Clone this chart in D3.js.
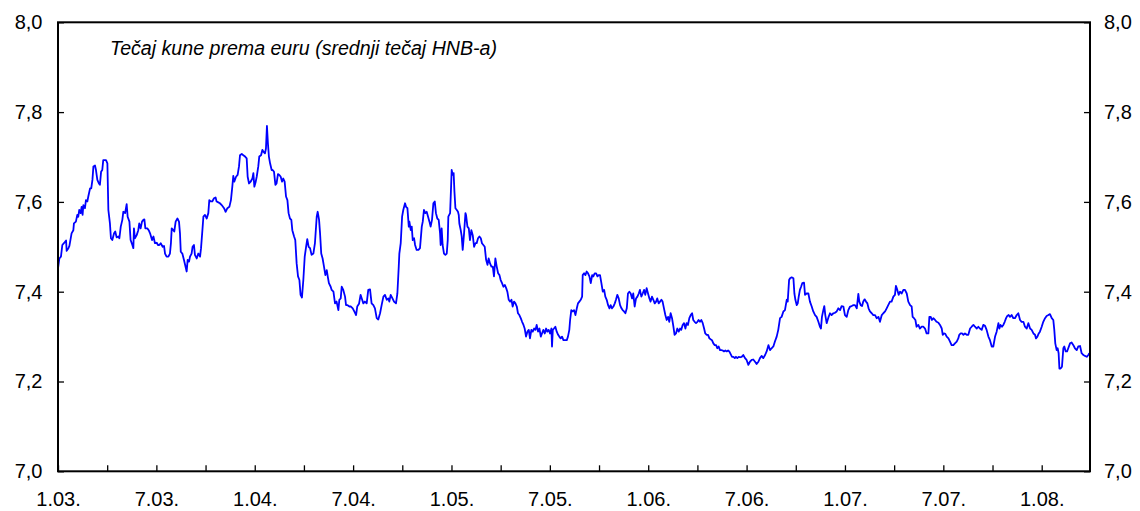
<!DOCTYPE html>
<html><head><meta charset="utf-8">
<script src="https://cdn.jsdelivr.net/npm/d3@7"></script>
<style>
html,body{margin:0;padding:0;background:#fff;}
svg{display:block;}
text{font-family:"Liberation Sans",Arial,sans-serif;fill:#000;}
</style></head>
<body><svg id="chart" width="1140" height="511"></svg>
<script>
const titleText = "Tečaj kune prema euru (srednji tečaj HNB-a)";
const xTickValues = [2003,2003.25,2003.5,2003.75,2004,2004.25,2004.5,2004.75,2005,2005.25,2005.5,2005.75,2006,2006.25,2006.5,2006.75,2007,2007.25,2007.5,2007.75,2008];
const xTickLabels = {2003:"1.03.",2003.5:"7.03.",2004:"1.04.",2004.5:"7.04.",2005:"1.05.",2005.5:"7.05.",2006:"1.06.",2006.5:"7.06.",2007:"1.07.",2007.5:"7.07.",2008:"1.08."};
const yTickValues = [7.0,7.2,7.4,7.6,7.8,8.0];
const xDomain = [2003, 2008.2455];
const yDomain = [7.0, 8.0];

// decimal year of each observation
const years = [
2003.000,2003.007,2003.015,2003.022,2003.030,2003.041,2003.044,2003.053,2003.058,2003.069,
2003.078,2003.081,2003.091,2003.098,2003.103,2003.108,2003.115,2003.120,2003.125,2003.129,
2003.137,2003.142,2003.149,2003.154,2003.163,2003.169,2003.175,2003.180,2003.188,2003.193,
2003.200,2003.208,2003.213,2003.219,2003.225,2003.230,2003.244,2003.251,2003.256,2003.264,
2003.269,2003.276,2003.285,2003.291,2003.298,2003.307,2003.312,2003.319,2003.327,2003.332,
2003.341,2003.349,2003.354,2003.363,2003.369,2003.378,2003.383,2003.386,2003.391,2003.400,
2003.408,2003.413,2003.420,2003.427,2003.434,2003.439,2003.444,2003.454,2003.461,2003.468,
2003.478,2003.485,2003.493,2003.502,2003.508,2003.515,2003.522,2003.532,2003.539,2003.544,
2003.552,2003.561,2003.569,2003.574,2003.578,2003.586,2003.591,2003.598,2003.607,2003.615,
2003.620,2003.624,2003.632,2003.640,2003.646,2003.654,2003.659,2003.666,2003.671,2003.679,
2003.684,2003.691,2003.696,2003.705,2003.713,2003.722,2003.727,2003.734,2003.739,2003.747,
2003.756,2003.764,2003.769,2003.776,2003.784,2003.793,2003.801,2003.806,2003.815,2003.823,
2003.832,2003.844,2003.852,2003.861,2003.871,2003.879,2003.886,2003.891,2003.896,2003.905,
2003.913,2003.920,2003.925,2003.934,2003.942,2003.951,2003.959,2003.964,2003.971,2003.979,
2003.988,2003.993,2003.998,2004.005,2004.010,2004.018,2004.023,2004.032,2004.039,2004.044,
2004.052,2004.057,2004.062,2004.067,2004.072,2004.078,2004.086,2004.091,2004.098,2004.105,
2004.111,2004.118,2004.125,2004.132,2004.139,2004.145,2004.152,2004.159,2004.166,2004.172,
2004.179,2004.186,2004.191,2004.200,2004.206,2004.213,2004.220,2004.227,2004.233,2004.240,
2004.247,2004.254,2004.261,2004.267,2004.274,2004.281,2004.289,2004.298,2004.306,2004.315,
2004.320,2004.327,2004.332,2004.338,2004.345,2004.352,2004.359,2004.366,2004.371,2004.377,
2004.386,2004.391,2004.400,2004.408,2004.416,2004.425,2004.430,2004.437,2004.442,2004.450,
2004.459,2004.464,2004.472,2004.481,2004.489,2004.498,2004.506,2004.515,2004.521,2004.530,
2004.538,2004.544,2004.552,2004.560,2004.569,2004.577,2004.586,
2004.594,2004.603,2004.611,2004.620,2004.628,2004.637,2004.645,2004.654,2004.662,2004.671,
2004.679,2004.684,2004.691,2004.700,2004.708,2004.718,2004.725,2004.732,2004.735,2004.742,
2004.749,2004.755,2004.764,2004.769,2004.776,2004.783,2004.786,2004.793,2004.798,2004.803,
2004.810,2004.815,2004.823,2004.832,2004.840,2004.849,2004.854,2004.860,2004.867,2004.874,
2004.881,2004.888,2004.894,2004.901,2004.908,2004.915,2004.921,2004.928,2004.935,2004.942,
2004.945,2004.950,2004.955,2004.962,2004.969,2004.976,2004.981,2004.984,2004.993,2004.998,
2005.001,2005.006,2005.011,2005.015,2005.020,2005.027,2005.033,2005.037,2005.040,2005.047,
2005.052,2005.057,2005.064,2005.071,2005.074,2005.081,2005.088,2005.094,2005.101,2005.108,
2005.115,2005.122,2005.128,2005.135,2005.142,2005.149,2005.155,2005.162,2005.169,2005.176,
2005.183,2005.189,2005.196,2005.203,2005.210,2005.216,2005.223,2005.230,2005.237,2005.244,
2005.250,2005.257,2005.264,2005.271,2005.278,2005.284,2005.291,2005.298,2005.305,2005.311,
2005.318,2005.325,2005.332,2005.338,2005.345,2005.352,2005.359,2005.366,2005.372,2005.379,
2005.386,2005.393,2005.399,2005.406,2005.413,2005.420,2005.427,2005.433,2005.440,2005.447,
2005.454,2005.460,2005.467,2005.474,2005.481,2005.487,2005.494,2005.501,2005.508,2005.511,
2005.515,2005.521,2005.528,2005.535,2005.542,2005.548,2005.555,2005.562,2005.569,2005.577,
2005.586,2005.592,2005.599,2005.603,2005.609,2005.616,2005.623,2005.630,2005.637,2005.643,
2005.650,2005.657,2005.664,2005.667,2005.674,2005.681,2005.687,2005.694,2005.701,2005.708,
2005.715,2005.721,2005.728,2005.735,2005.742,2005.748,2005.755,2005.762,2005.769,2005.776,
2005.782,2005.789,2005.796,2005.803,2005.809,2005.816,2005.823,2005.830,2005.836,2005.843,
2005.850,2005.857,2005.864,2005.870,2005.877,2005.884,2005.891,2005.897,2005.904,2005.911,
2005.918,2005.924,2005.931,2005.938,2005.945,2005.952,2005.958,2005.965,2005.972,2005.979,
2005.985,2005.992,2005.999,2006.006,2006.012,2006.019,2006.026,2006.033,2006.040,2006.046,
2006.053,2006.060,2006.067,2006.073,2006.080,2006.087,2006.094,2006.101,2006.107,2006.114,
2006.121,2006.128,2006.134,2006.141,2006.148,2006.155,2006.162,2006.168,2006.175,2006.182,
2006.189,2006.195,2006.202,2006.209,2006.216,2006.223,2006.229,2006.236,2006.243,2006.250,
2006.256,2006.263,2006.270,2006.277,2006.284,2006.290,2006.297,2006.304,2006.311,2006.317,
2006.324,2006.331,2006.338,2006.345,2006.351,2006.358,2006.365,2006.372,2006.379,2006.385,
2006.392,2006.399,2006.406,2006.412,2006.419,2006.426,2006.433,2006.440,2006.446,2006.453,
2006.460,2006.467,
2006.475,2006.483,2006.492,2006.500,2006.509,2006.517,2006.526,2006.534,2006.543,2006.551,
2006.560,2006.568,2006.577,2006.585,2006.594,2006.602,2006.611,2006.619,2006.627,2006.636,
2006.644,2006.653,2006.661,2006.670,2006.678,2006.687,2006.695,2006.704,2006.709,2006.716,
2006.721,2006.729,2006.738,2006.743,2006.748,2006.755,2006.760,2006.765,2006.771,2006.777,
2006.783,2006.792,2006.797,2006.805,2006.814,2006.822,2006.831,2006.839,2006.848,2006.856,
2006.865,2006.873,2006.878,2006.883,2006.890,2006.895,2006.900,2006.907,2006.912,2006.917,
2006.924,2006.932,2006.941,2006.949,2006.958,2006.966,2006.975,2006.983,2006.992,2007.000,
2007.009,2007.017,2007.026,2007.034,2007.043,2007.051,2007.060,2007.068,2007.073,2007.080,
2007.087,2007.093,2007.100,2007.107,2007.114,2007.120,2007.127,2007.136,2007.144,2007.153,
2007.161,2007.170,2007.178,2007.187,2007.195,2007.204,2007.212,2007.220,2007.229,2007.237,
2007.246,2007.254,2007.259,2007.266,2007.273,2007.280,2007.288,2007.297,2007.305,2007.314,
2007.322,2007.331,2007.339,2007.344,2007.351,2007.358,2007.364,2007.373,2007.381,2007.390,
2007.398,2007.407,2007.415,2007.424,2007.429,2007.436,2007.442,2007.449,2007.458,2007.466,
2007.475,2007.483,2007.492,2007.497,2007.503,2007.510,2007.517,2007.526,2007.534,2007.542,
2007.551,2007.559,2007.568,2007.576,2007.581,2007.588,2007.595,2007.602,2007.610,2007.619,
2007.627,2007.636,2007.644,2007.653,2007.661,2007.670,2007.678,2007.686,2007.695,2007.703,
2007.712,2007.720,2007.729,2007.737,2007.746,2007.754,2007.763,2007.771,2007.780,2007.785,
2007.791,2007.798,2007.805,2007.812,2007.819,2007.825,2007.832,2007.839,2007.847,2007.856,
2007.864,2007.873,2007.881,2007.890,2007.898,2007.907,2007.915,2007.924,2007.932,2007.941,
2007.949,2007.958,2007.966,2007.971,2007.978,2007.985,2007.991,2008.000,2008.008,2008.017,
2008.025,2008.034,2008.042,2008.051,2008.059,2008.064,2008.069,2008.076,2008.081,2008.086,
2008.090,2008.096,2008.103,2008.110,2008.115,2008.122,2008.129,2008.135,2008.144,2008.152,
2008.161,2008.169,2008.178,2008.186,2008.195,2008.203,2008.212,2008.220,2008.229,2008.237,
2008.242
];

// HRK per EUR, HNB middle rate
const rates = [
7.452,7.474,7.478,7.504,7.508,7.514,7.491,7.497,7.502,7.530,
7.537,7.552,7.556,7.571,7.567,7.582,7.575,7.589,7.571,7.593,
7.586,7.604,7.601,7.612,7.630,7.630,7.649,7.679,7.681,7.671,
7.649,7.641,7.638,7.667,7.671,7.693,7.693,7.686,7.582,7.552,
7.519,7.515,7.530,7.534,7.521,7.523,7.519,7.545,7.560,7.578,
7.575,7.595,7.567,7.556,7.515,7.504,7.497,7.541,7.519,7.526,
7.537,7.552,7.541,7.556,7.560,7.561,7.541,7.541,7.537,7.530,
7.515,7.523,7.508,7.509,7.504,7.504,7.508,7.500,7.502,7.485,
7.478,7.478,7.485,7.508,7.541,7.537,7.534,7.556,7.563,7.556,
7.530,7.489,7.485,7.471,7.460,7.445,7.471,7.467,7.478,7.485,
7.500,7.504,7.482,7.474,7.485,7.478,7.497,7.537,7.567,7.571,
7.563,7.575,7.604,7.601,7.601,7.608,7.610,7.601,7.599,7.597,
7.593,7.586,7.578,7.586,7.589,7.604,7.634,7.658,7.645,7.656,
7.660,7.679,7.704,7.707,7.704,7.701,7.697,7.656,7.641,7.645,
7.652,7.664,7.634,7.645,7.656,7.679,7.701,7.704,7.716,7.712,
7.708,7.719,7.769,7.730,7.701,7.686,7.671,7.671,7.667,7.638,
7.641,7.662,7.660,7.656,7.645,7.652,7.645,7.612,7.604,7.575,
7.563,7.560,7.537,7.523,7.515,7.463,7.434,7.426,7.393,7.387,
7.426,7.478,7.500,7.517,7.500,7.497,7.482,7.485,7.508,7.567,
7.578,7.560,7.530,7.485,7.474,7.456,7.437,7.448,7.434,7.419,
7.411,7.404,7.400,7.374,7.378,7.359,7.382,7.385,7.411,7.404,
7.389,7.370,7.370,7.367,7.367,7.363,7.356,7.348,7.367,7.373,
7.393,7.385,7.374,7.378,7.374,7.404,7.405,
7.374,7.370,7.363,7.341,7.338,7.352,7.370,7.389,7.393,7.382,
7.385,7.378,7.393,7.385,7.378,7.374,7.396,7.456,7.485,7.508,
7.567,7.582,7.597,7.589,7.586,7.545,7.556,7.537,7.545,7.515,
7.519,7.504,7.493,7.493,7.497,7.545,7.556,7.582,7.575,7.578,
7.567,7.556,7.545,7.560,7.597,7.601,7.575,7.563,7.560,7.530,
7.504,7.541,7.504,7.485,7.482,7.485,7.515,7.567,7.575,7.634,
7.671,7.660,7.664,7.623,7.586,7.582,7.578,7.571,7.552,7.537,
7.523,7.493,7.530,7.575,7.571,7.545,7.541,7.515,7.537,7.526,
7.500,7.508,7.508,7.519,7.523,7.519,7.508,7.504,7.500,7.471,
7.460,7.474,7.463,7.456,7.456,7.434,7.474,7.456,7.441,7.437,
7.426,7.419,7.411,7.415,7.408,7.400,7.382,7.378,7.382,7.367,
7.378,7.374,7.367,7.352,7.348,7.341,7.333,7.326,7.318,7.300,
7.311,7.315,7.296,7.315,7.311,7.318,7.315,7.326,7.311,7.318,
7.300,7.307,7.315,7.307,7.318,7.311,7.315,7.307,7.318,7.278,
7.315,7.318,7.322,7.311,7.304,7.300,7.296,7.300,7.292,7.292,
7.292,7.300,7.315,7.337,7.359,7.356,7.359,7.348,7.363,7.374,
7.378,7.382,7.389,7.437,7.441,7.437,7.445,7.441,7.434,7.419,
7.437,7.434,7.441,7.441,7.434,7.437,7.437,7.419,7.400,7.404,
7.389,7.382,7.370,7.363,7.370,7.363,7.367,7.374,7.382,7.393,
7.385,7.370,7.363,7.359,7.356,7.352,7.363,7.396,7.400,7.396,
7.385,7.396,7.367,7.385,7.389,7.396,7.404,7.389,7.396,7.404,
7.393,7.408,7.396,7.385,7.378,7.389,7.382,7.374,7.378,7.385,
7.374,7.378,7.382,7.378,7.363,7.348,7.337,7.344,7.333,7.352,
7.341,7.322,7.304,7.307,7.318,7.311,7.318,7.315,7.326,7.330,
7.318,7.330,7.326,7.341,7.348,7.352,7.337,7.333,7.330,7.333,
7.337,7.333,7.337,7.330,7.318,7.307,7.304,7.304,7.296,7.294,
7.292,7.285,7.281,7.281,7.274,7.278,7.270,7.270,7.269,7.267,
7.269,7.267,7.269,7.267,7.261,7.255,7.255,7.252,7.255,7.252,
7.255,7.254,
7.255,7.259,7.252,7.248,7.237,7.244,7.248,7.249,7.244,7.239,
7.244,7.252,7.257,7.252,7.259,7.267,7.281,7.270,7.274,7.278,
7.289,7.300,7.315,7.341,7.344,7.356,7.359,7.382,7.378,7.426,
7.430,7.432,7.430,7.396,7.382,7.370,7.374,7.389,7.404,7.411,
7.419,7.420,7.393,7.396,7.396,7.378,7.367,7.356,7.348,7.344,
7.333,7.322,7.318,7.344,7.359,7.368,7.348,7.330,7.337,7.344,
7.352,7.348,7.352,7.353,7.356,7.363,7.359,7.368,7.367,7.348,
7.344,7.359,7.367,7.368,7.370,7.370,7.363,7.395,7.378,7.370,
7.368,7.378,7.383,7.378,7.374,7.363,7.356,7.352,7.348,7.348,
7.341,7.344,7.333,7.348,7.352,7.356,7.363,7.370,7.378,7.378,
7.389,7.393,7.413,7.404,7.393,7.400,7.396,7.404,7.404,7.396,
7.378,7.370,7.367,7.344,7.341,7.337,7.322,7.326,7.318,7.322,
7.322,7.318,7.307,7.307,7.344,7.344,7.337,7.341,7.337,7.333,
7.331,7.326,7.318,7.304,7.307,7.306,7.300,7.296,7.289,7.281,
7.281,7.285,7.289,7.296,7.304,7.307,7.307,7.304,7.307,7.304,
7.304,7.318,7.322,7.326,7.322,7.318,7.322,7.318,7.315,7.326,
7.324,7.315,7.300,7.292,7.278,7.278,7.300,7.311,7.330,7.318,
7.326,7.322,7.326,7.333,7.341,7.346,7.348,7.344,7.348,7.341,
7.341,7.348,7.352,7.337,7.333,7.333,7.322,7.318,7.330,7.318,
7.315,7.307,7.304,7.296,7.300,7.307,7.311,7.322,7.333,7.341,
7.346,7.348,7.350,7.341,7.337,7.315,7.285,7.270,7.274,7.263,
7.229,7.229,7.233,7.274,7.278,7.267,7.267,7.274,7.285,7.287,
7.281,7.274,7.270,7.278,7.279,7.263,7.259,7.257,7.255,7.259,
7.263
];

const W = 1140, H = 511;
const L = 58, R = 1090, T = 22.3, B = 471.3;
const svg = d3.select("#chart");

const x = d3.scaleLinear().domain(xDomain).range([L, R]);
const y = d3.scaleLinear().domain(yDomain).range([B, T]);
const fmtY = v => d3.format(".1f")(v).replace(".", ",");

// bottom axis
const gx = svg.append("g").attr("transform", `translate(0,${B})`)
  .call(d3.axisBottom(x).tickValues(xTickValues).tickSize(-6).tickPadding(20.5)
    .tickFormat(d => xTickLabels[d] || ""));
// left axis
const gyl = svg.append("g").attr("transform", `translate(${L},0)`)
  .call(d3.axisLeft(y).tickValues(yTickValues).tickSize(-6).tickPadding(15.5).tickFormat(fmtY));
// right axis
const gyr = svg.append("g").attr("transform", `translate(${R},0)`)
  .call(d3.axisRight(y).tickValues(yTickValues).tickSize(-6).tickPadding(14).tickFormat(fmtY));

[gx, gyl, gyr].forEach(g => {
  g.select(".domain").remove();
  g.selectAll(".tick line").attr("stroke", "#000").attr("stroke-width", 1.3);
  g.selectAll(".tick text").attr("font-size", 20).attr("font-family", '"Liberation Sans", Arial, sans-serif').attr("fill", "#000");
});

// series line
const idx = d3.range(Math.min(years.length, rates.length));
svg.append("path")
  .attr("d", d3.line().x(i => x(years[i])).y(i => y(rates[i]))(idx))
  .attr("fill", "none").attr("stroke", "#0000ff").attr("stroke-width", 1.8)
  .attr("stroke-linejoin", "round");

// plot frame
svg.append("rect").attr("x", L).attr("y", T).attr("width", R - L).attr("height", B - T)
  .attr("fill", "none").attr("stroke", "#000").attr("stroke-width", 2);

// title
svg.append("text").attr("x", 110).attr("y", 54.5)
  .attr("font-size", 19.6).attr("font-style", "italic").text(titleText);
</script></body></html>
